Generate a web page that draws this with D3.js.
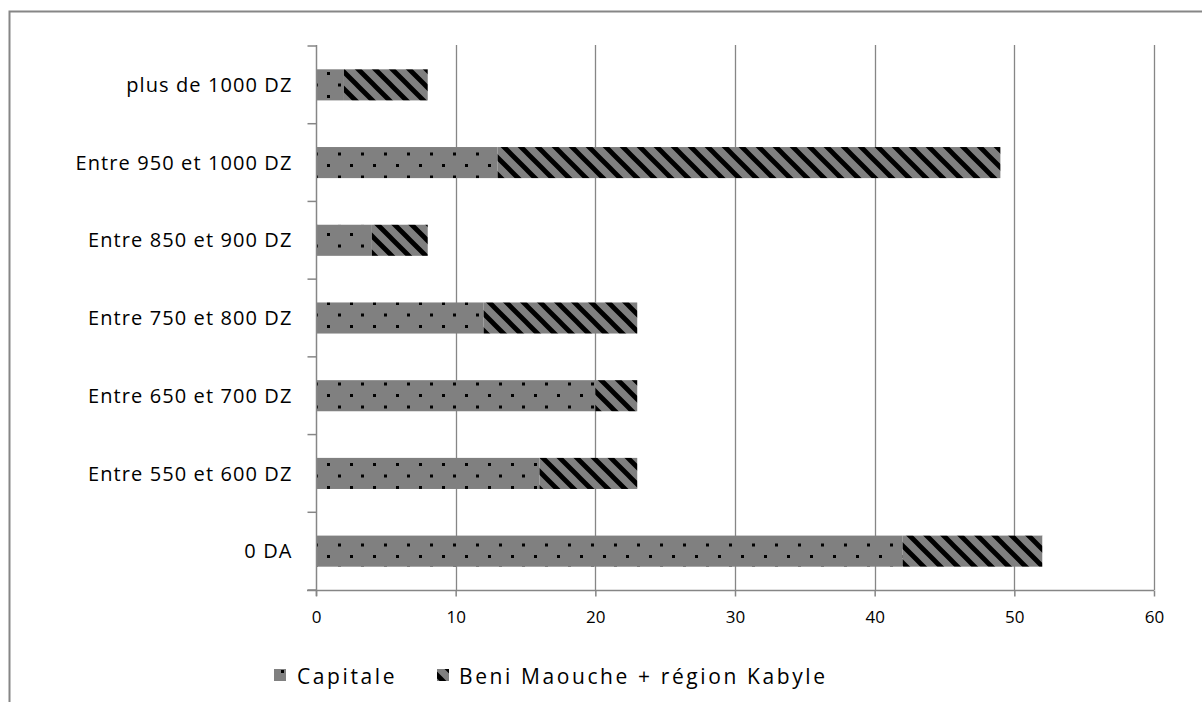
<!DOCTYPE html>
<html>
<head>
<meta charset="utf-8">
<script src="https://cdn.jsdelivr.net/npm/d3@7/dist/d3.min.js"></script>
<style>
  html, body { margin: 0; padding: 0; background: #fff; }
  svg { display: block; }
  text { font-family: "Open Sans", Lato, "DejaVu Sans", sans-serif; fill: #000; }
</style>
</head>
<body>
<svg id="chart" width="1202" height="702"></svg>
<script>
// Price brackets, listed bottom to top as on the axis
const categories = ["0 DA", "Entre 550 et 600 DZ", "Entre 650 et 700 DZ", "Entre 750 et 800 DZ",
                    "Entre 850 et 900 DZ", "Entre 950 et 1000 DZ", "plus de 1000 DZ"];
const capitale = [42, 16, 20, 12, 4, 13, 2];
const beniMaouche = [10, 7, 3, 11, 4, 36, 6];
const seriesNames = ["Capitale", "Beni Maouche + région Kabyle"];
const xTicks = [0, 10, 20, 30, 40, 50, 60];

const svg = d3.select("#chart");
const defs = svg.append("defs");

// Dotted fill for the first series
const dots = defs.append("pattern").attr("id", "dots")
  .attr("patternUnits", "userSpaceOnUse").attr("width", 23).attr("height", 23)
  .attr("x", 316).attr("y", 0);
dots.append("rect").attr("width", 23).attr("height", 23).attr("fill", "#808080");
dots.append("rect").attr("x", 11).attr("y", 3).attr("width", 3).attr("height", 3).attr("fill", "#000");
dots.append("rect").attr("x", 22).attr("y", 14.5).attr("width", 3).attr("height", 3).attr("fill", "#000");
dots.append("rect").attr("x", -1).attr("y", 14.5).attr("width", 3).attr("height", 3).attr("fill", "#000");

// Downward diagonal stripes for the second series
const stripes = defs.append("pattern").attr("id", "stripes")
  .attr("patternUnits", "userSpaceOnUse").attr("width", 17).attr("height", 17);
stripes.append("rect").attr("width", 17).attr("height", 17).attr("fill", "#808080");
stripes.append("path")
  .attr("d", "M-4,-4 L21,21 M-4,13 L4,21 M13,-4 L21,4")
  .attr("stroke", "#000").attr("stroke-width", 4.8).attr("stroke-linecap", "square");

// Outer chart frame (top and left edges visible)
svg.append("rect").attr("x", 9.5).attr("y", 11.5).attr("width", 1300).attr("height", 800)
  .attr("fill", "none").attr("stroke", "#868686").attr("stroke-width", 2);

const plotLeft = 316, plotRight = 1154, plotTop = 46, plotBottom = 590;

const x = d3.scaleLinear().domain([0, 60]).range([plotLeft, plotRight]);
const y = d3.scaleBand().domain(categories).range([plotBottom, plotTop])
  .paddingInner(0.6).paddingOuter(0.3);

// Vertical gridlines
svg.append("g").selectAll("line").data(xTicks.slice(1)).join("line")
  .attr("x1", d => Math.round(x(d)) + 0.5).attr("x2", d => Math.round(x(d)) + 0.5)
  .attr("y1", plotTop - 1).attr("y2", plotBottom)
  .attr("stroke", "#868686").attr("stroke-width", 1.3);

// Stacked bars
const rows = categories.map((c, i) => ({ cat: c, a: capitale[i], b: beniMaouche[i] }));
const bars = svg.append("g");
bars.selectAll("rect.cap").data(rows).join("rect").attr("class", "cap")
  .attr("x", x(0)).attr("y", d => y(d.cat))
  .attr("width", d => x(d.a) - x(0)).attr("height", y.bandwidth())
  .attr("fill", "url(#dots)");
bars.selectAll("rect.beni").data(rows).join("rect").attr("class", "beni")
  .attr("x", d => x(d.a)).attr("y", d => y(d.cat))
  .attr("width", d => x(d.a + d.b) - x(d.a)).attr("height", y.bandwidth())
  .attr("fill", "url(#stripes)");

// X axis
const xAxis = svg.append("g").attr("transform", `translate(0,${plotBottom + 0.5})`)
  .call(d3.axisBottom(x).tickValues(xTicks).tickSize(6).tickPadding(14));
xAxis.selectAll("path, line").attr("stroke", "#868686").attr("stroke-width", 1.5);
xAxis.select(".domain").attr("d", `M${plotLeft - 9},0H${plotRight}`);
xAxis.selectAll("text").attr("font-size", 17).style("font-family", "'Open Sans', sans-serif");

// Y axis with ticks at category boundaries
const yAxisG = svg.append("g").attr("transform", `translate(${plotLeft + 0.5},0)`);
yAxisG.append("line").attr("y1", plotTop - 1).attr("y2", plotBottom + 6)
  .attr("stroke", "#868686").attr("stroke-width", 1.5);
const boundaries = d3.range(categories.length + 1)
  .map(i => plotBottom - i * (plotBottom - plotTop) / categories.length);
yAxisG.selectAll("line.tick").data(boundaries).join("line").attr("class", "tick")
  .attr("x1", -9).attr("x2", 0).attr("y1", d => d).attr("y2", d => d)
  .attr("stroke", "#868686").attr("stroke-width", 1.5);
yAxisG.selectAll("text").data(categories).join("text")
  .attr("x", -24).attr("y", d => y(d) + y.bandwidth() / 2)
  .attr("dy", "0.36em").attr("text-anchor", "end").attr("font-size", 20)
  .style("letter-spacing", "1.1px")
  .text(d => d);

// Legend
const legend = svg.append("g");
const legendItems = [
  { name: seriesNames[0], fill: "url(#dots)", sx: 274, tx: 297 },
  { name: seriesNames[1], fill: "url(#stripes)", sx: 437, tx: 459 }
];
legend.selectAll("rect").data(legendItems).join("rect")
  .attr("x", d => d.sx).attr("y", 669).attr("width", 12).attr("height", 12)
  .attr("fill", d => d.fill);
legend.selectAll("text").data(legendItems).join("text")
  .attr("x", d => d.tx).attr("y", 676).attr("dy", "0.36em").attr("font-size", 21)
  .style("letter-spacing", "2.6px")
  .text(d => d.name);
</script>
</body>
</html>
